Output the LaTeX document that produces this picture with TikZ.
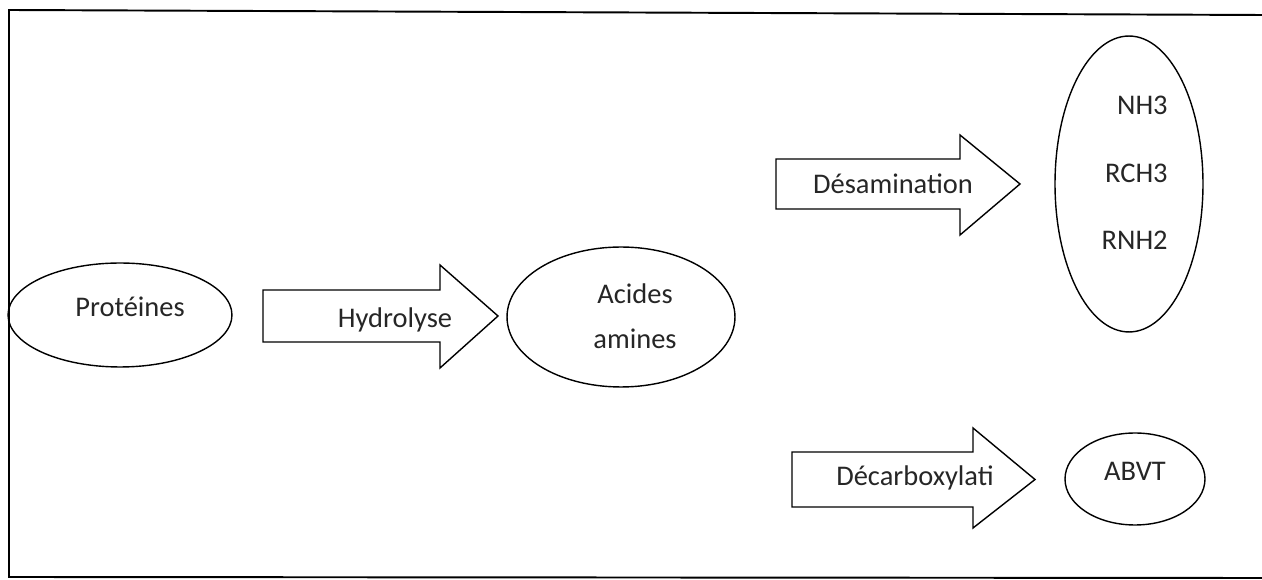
\documentclass[tikz,border=0pt]{standalone}
\usepackage{fontspec}
\setmainfont{Carlito}
\usetikzlibrary{shapes.geometric}

\tikzset{
  blob/.style={ellipse, draw, line width=0.8pt, inner sep=0pt},
  txt/.style={font=\fontsize{16.2}{19.5}\selectfont, inner sep=0pt, text=black!85},
  fatarrow/.style={draw, line width=0.8pt, line join=miter}
}

% block arrow: left x, body top, body bottom, head base x, head top, head bottom, tip x
\newcommand{\blockarrow}[7]{%
  \draw[fatarrow] (#1,#2) -- (#4,#2) -- (#4,#5) -- (#7,{(#2+#3)/2})
    -- (#4,#6) -- (#4,#3) -- (#1,#3) -- cycle;}

\begin{document}
\begin{tikzpicture}[x=0.02cm, y=-0.02cm]
    \useasboundingbox (0,0) rectangle (1262,580);

    % --- FRAME (right side cut off) ---
    \draw[line width=1.1pt] (1262,15) -- (9,10) -- (9,577) -- (1262,578);

    % --- ELLIPSES ---
    \node[blob, minimum width=4.48cm, minimum height=2.08cm] (prot) at (120,315) {};
    \node[blob, minimum width=4.56cm, minimum height=2.8cm] (acid) at (621,317) {};
    \node[blob, minimum width=2.96cm, minimum height=5.92cm] (prod) at (1129,184) {};
    \node[blob, minimum width=2.8cm, minimum height=1.84cm] (abvt) at (1135,479) {};

    % --- BLOCK ARROWS ---
    \blockarrow{263}{290}{342}{440}{265}{368}{498}
    \blockarrow{776}{159}{209}{960}{135}{235}{1020}
    \blockarrow{792}{452}{507}{973}{428}{528}{1035}

    % --- TEXTS ---
    \node[txt] (tprot) at (130,307) {Protéines};
    \node[txt] (thyd) at (395,320) {Hydrolyse};
    \node[txt, align=center] (tacid) at (635,316) {Acides\\[6pt]amines};
    \node[txt] (tdes) at (893,184) {Désamination};
    \node[txt, anchor=east] (tnh) at (1168,105) {NH3};
    \node[txt, anchor=east] (trch) at (1168,173) {RCH3};
    \node[txt, anchor=east] (trnh) at (1168,240) {RNH2};
    \node[txt] (tdec) at (915,478) {Décarboxylati};
    \node[txt] (tabvt) at (1135,471) {ABVT};
\end{tikzpicture}
\end{document}
